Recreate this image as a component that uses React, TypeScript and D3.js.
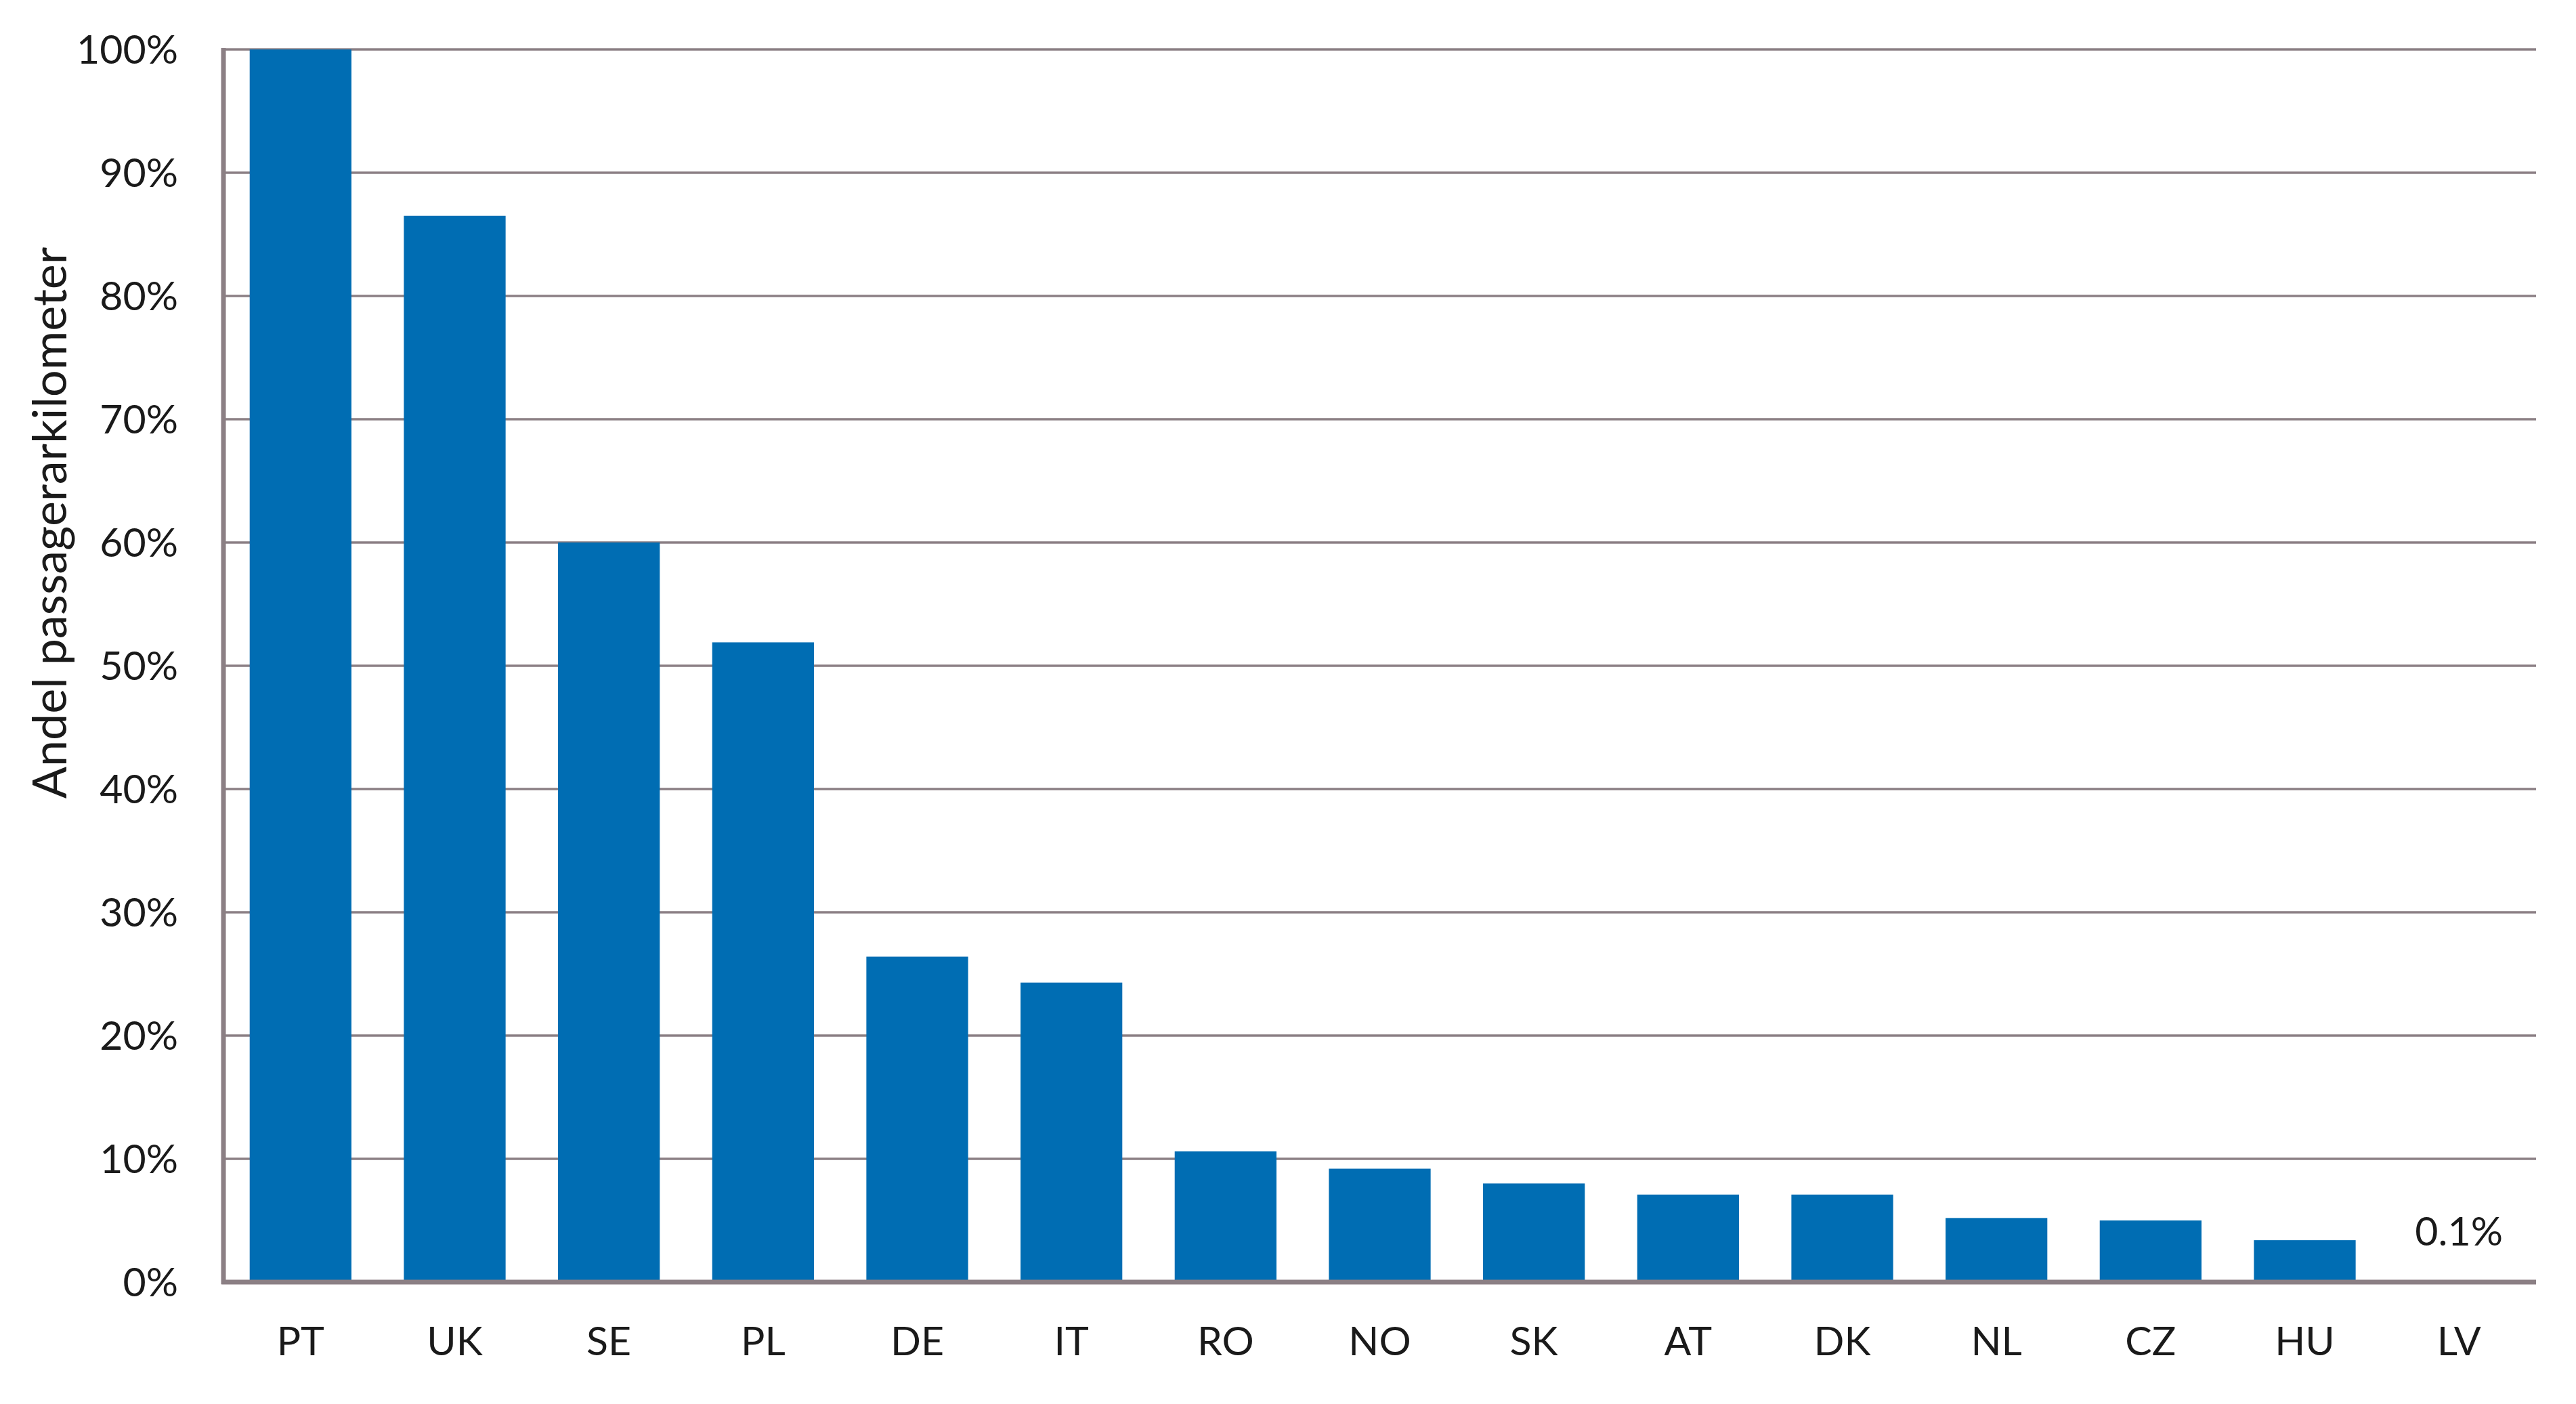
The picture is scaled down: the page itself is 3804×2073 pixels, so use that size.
import React, { useEffect } from 'react';
import * as d3 from 'd3';

// country codes along the x axis
const countries = ['PT', 'UK', 'SE', 'PL', 'DE', 'IT', 'RO', 'NO', 'SK', 'AT', 'DK', 'NL', 'CZ', 'HU', 'LV'];
// share of passenger kilometres, in percent
const shares = [100, 86.5, 60, 51.9, 26.4, 24.3, 10.6, 9.2, 8.0, 7.1, 7.1, 5.2, 5.0, 3.4, 0.1];
const yTicks = [0, 10, 20, 30, 40, 50, 60, 70, 80, 90, 100];
const yTitle = 'Andel passagerarkilometer';
const annotated = 'LV';
const annotationText = '0.1%';

const width = 3804;
const height = 2073;
const marginTop = 73;
const marginRight = 59;
const marginBottom = 180;
const marginLeft = 330;
const font = 'Lato, "Open Sans", sans-serif';
const gridColor = '#8b7f84';
const barColor = '#006db3';

export default function App() {
  useEffect(() => {
    document.body.style.margin = '0';
  }, []);

  const x = d3.scaleBand<string>()
    .domain(countries)
    .range([marginLeft, width - marginRight])
    .paddingInner(0.34)
    .paddingOuter(0.17);

  const y = d3.scaleLinear()
    .domain([0, 100])
    .range([height - marginBottom, marginTop]);

  const bottom = y(0);

  return (
    <svg width={width} height={height} style={{ display: 'block', background: '#fff' }}>
      {/* grid lines */}
      <g stroke={gridColor} strokeWidth={3.5}>
        {yTicks.filter(t => t > 0).map(t => (
          <line key={t} x1={marginLeft} x2={width - marginRight} y1={y(t)} y2={y(t)} />
        ))}
      </g>

      {/* bars */}
      <g fill={barColor}>
        {countries.map((c, i) => (
          <rect key={c} x={x(c)} width={x.bandwidth()} y={y(shares[i])} height={bottom - y(shares[i])} />
        ))}
      </g>

      {/* axes */}
      <line x1={marginLeft} x2={marginLeft} y1={marginTop - 2} y2={bottom + 3} stroke={gridColor} strokeWidth={7} />
      <line x1={marginLeft - 3} x2={width - marginRight} y1={bottom} y2={bottom} stroke={gridColor} strokeWidth={7} />

      {/* y tick labels */}
      <g fontFamily={font} fontSize={59} fill="#1a1a1a" textAnchor="end">
        {yTicks.map(t => (
          <text key={t} x={263} y={y(t)} dy="0.35em">{t}%</text>
        ))}
      </g>

      {/* x tick labels */}
      <g fontFamily={font} fontSize={59} fill="#1a1a1a" textAnchor="middle">
        {countries.map(c => (
          <text key={c} x={(x(c) ?? 0) + x.bandwidth() / 2} y={bottom + 87} dy="0.35em">{c}</text>
        ))}
      </g>

      {/* value label for the tiny bar */}
      <text
        x={(x(annotated) ?? 0) + x.bandwidth() / 2}
        y={bottom - 75}
        dy="0.35em"
        textAnchor="middle"
        fontFamily={font}
        fontSize={59}
        fill="#1a1a1a"
      >
        {annotationText}
      </text>

      {/* y axis title */}
      <text
        transform="translate(73,772) rotate(-90)"
        dy="0.35em"
        textAnchor="middle"
        fontFamily={font}
        fontSize={70}
        fill="#1a1a1a"
      >
        {yTitle}
      </text>
    </svg>
  );
}
